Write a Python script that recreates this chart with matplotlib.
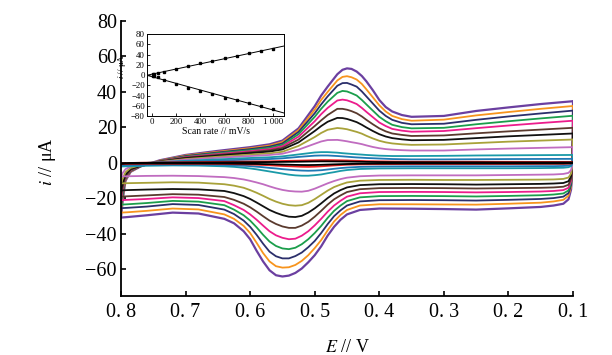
import matplotlib
matplotlib.use("Agg")
import matplotlib.pyplot as plt
import numpy as np

plt.rcParams['font.family'] = ['Liberation Serif', 'DejaVu Serif']
plt.rcParams['mathtext.fontset'] = 'stix'

# ---------------- data ----------------
scan_rates_main = [1000, 900, 800, 700, 600, 500, 400, 300, 200, 100, 50, 20, 10]
curve_colors = ['#6B3FA0', '#F7941D', '#2B2F6B', '#1B9E4B', '#EC1C8C', '#5A3A2E',
                '#111111', '#A8A23A', '#C06CC0', '#1A9AA8', '#1F78B4', '#EE2020', '#000000']

E_up = [0.800, 0.797, 0.793, 0.785, 0.770, 0.740, 0.700, 0.650, 0.600, 0.570, 0.550, 0.525,
        0.500, 0.490, 0.480, 0.465, 0.457, 0.450, 0.443, 0.435, 0.427, 0.420, 0.410, 0.400,
        0.390, 0.380, 0.365, 0.350,
        0.300, 0.250, 0.200, 0.150, 0.100]

E_dn = [0.100, 0.101, 0.103, 0.107, 0.115, 0.130, 0.150, 0.200, 0.250, 0.300, 0.350, 0.400,
        0.430, 0.450, 0.460, 0.470, 0.480, 0.490, 0.500, 0.510, 0.520, 0.530, 0.540, 0.550,
        0.560, 0.570, 0.580, 0.590, 0.600, 0.610, 0.625, 0.640, 0.680,
        0.720, 0.760, 0.790, 0.800]

upper_sweep = [
    [-30.8, -20, -10, -5, -2, 1.5, 4.5, 6.8, 8.9, 10.5, 12.6, 19.5,
     32, 38, 43, 50, 52.5, 53.3, 53, 51.5, 49, 46, 41, 35.5, 31.5, 29, 27, 26,
     26.5, 29.3, 31.3, 33.2, 34.8],
    [-28, -18.5, -9.5, -4.8, -2, 1.3, 4.2, 6.3, 8.3, 9.8, 11.8, 18.5,
     30, 35.5, 40, 46.5, 48.5, 48.9, 48.3, 47, 44.5, 41.5, 37, 32.5, 29, 26.5, 24.7, 23.8,
     24.4, 26.8, 28.7, 30.5, 32.1],
    [-25.5, -17, -9, -4.5, -2, 1.1, 3.9, 5.9, 7.8, 9.2, 11, 17.5,
     28, 33, 37.5, 43.5, 45, 45.1, 44.2, 43, 40.3, 37.5, 33.5, 29.5, 26.5, 24.3, 22.6, 21.8,
     22.1, 24.3, 26.2, 27.9, 29.5],
    [-23.5, -16, -8.5, -4.2, -1.9, 1.0, 3.6, 5.5, 7.2, 8.5, 10.2, 16.2,
     26, 30.5, 34.5, 39.5, 40.6, 40.3, 39.3, 38, 35.5, 33, 29.5, 26, 23.5, 21.5, 20.2, 19.5,
     19.8, 21.8, 23.5, 25.1, 26.6],
    [-21, -14.5, -8, -4, -1.8, 0.9, 3.3, 5.0, 6.6, 7.8, 9.4, 14.8,
     23.5, 27.5, 31, 35.2, 35.7, 35.3, 34.4, 33.2, 31, 28.8, 25.8, 22.8, 20.8, 19.2, 18.2, 17.6,
     18, 19.6, 21.1, 22.5, 23.8],
    [-19, -13, -7.5, -3.8, -1.7, 0.8, 3.0, 4.5, 6.0, 7.1, 8.5, 13.2,
     20.8, 24, 27, 30.5, 30.5, 30, 29.2, 28, 26.2, 24.3, 21.8, 19.5, 17.8, 16.6, 15.8, 15.2,
     15.5, 16.7, 17.8, 18.8, 19.8],
    [-15.5, -11, -6.5, -3.4, -1.6, 0.7, 2.7, 4.1, 5.5, 6.4, 7.6, 11.6,
     18, 20.8, 23.2, 25.4, 25.3, 24.8, 24, 23, 21.5, 20, 18, 16.2, 14.9, 14, 13.3, 12.8,
     13, 14, 15, 15.8, 16.6],
    [-11.5, -8.5, -5.2, -2.8, -1.3, 0.6, 2.2, 3.5, 4.7, 5.4, 6.3, 9.6,
     14.6, 16.9, 18.7, 19.7, 19.4, 19, 18.3, 17.5, 16.5, 15.3, 13.8, 12.5, 11.6, 11, 10.5, 10.2,
     10.4, 11.2, 12, 12.6, 13.2],
    [-7.6, -5.5, -3.5, -2, -1, 0.4, 1.8, 2.9, 3.9, 4.5, 5.2, 7.5,
     10.8, 12.1, 12.9, 13, 12.6, 12.2, 11.7, 11.2, 10.6, 9.9, 9, 8.3, 7.8, 7.5, 7.2, 7,
     7, 7.6, 8.1, 8.5, 8.9],
    [-2, -1.4, -0.9, -0.5, -0.2, 0.4, 1.2, 2.0, 2.8, 3.2, 3.7, 4.8,
     5.9, 6.1, 6.1, 5.8, 5.5, 5.3, 5.1, 4.9, 4.7, 4.5, 4.3, 4.1, 4.0, 3.9, 3.9, 3.9,
     4, 4.2, 4.3, 4.4, 4.5],
    [-1.3, -0.9, -0.6, -0.3, -0.1, 0.3, 0.8, 1.3, 1.9, 2.2, 2.6, 3.4,
     4.1, 4.2, 4.2, 3.9, 3.7, 3.5, 3.3, 3.1, 2.95, 2.8, 2.65, 2.5, 2.35, 2.2, 2.1, 2.0,
     2.0, 2.1, 2.2, 2.25, 2.3],
    [-0.6, -0.4, -0.2, 0, 0.1, 0.2, 0.4, 0.6, 0.8, 0.9, 1.1, 1.3,
     1.5, 1.6, 1.6, 1.5, 1.45, 1.4, 1.3, 1.2, 1.1, 1.0, 0.95, 0.9, 0.85, 0.8, 0.75, 0.7,
     0.7, 0.7, 0.65, 0.6, 0.6],
    [-0.4, -0.3, -0.1, 0, 0.05, 0.1, 0.2, 0.3, 0.4, 0.5, 0.6, 0.7,
     0.85, 0.9, 0.9, 0.85, 0.82, 0.8, 0.75, 0.7, 0.65, 0.6, 0.55, 0.5, 0.47, 0.45, 0.42, 0.4,
     0.35, 0.35, 0.3, 0.3, 0.3],
]

lower_sweep = [
    [34.8, -5, -15, -20.5, -23, -24, -24.8, -25.6, -26.3, -26, -25.8, -25.7,
     -26.5, -29, -32, -36, -41, -47, -52, -56, -59.5, -62, -63.5, -64, -63.3, -60.5, -55.5,
     -49.5, -43, -38.5, -34, -31.5, -28.5,
     -28, -29.5, -30.5, -30.8],
    [32.1, -4.5, -13.5, -18.5, -20.8, -21.7, -22.4, -23, -23.5, -23.4, -23.3, -23.3,
     -24, -26.5, -29.3, -33, -38, -43.5, -48, -52, -55.2, -57.5, -58.8, -59, -58.2, -55.5, -50.8,
     -45, -39.5, -35.5, -31.5, -29, -26.2,
     -25.7, -27, -27.8, -28],
    [29.5, -4, -12.5, -17, -19, -19.8, -20.3, -20.8, -21.2, -21, -20.9, -21,
     -21.7, -24, -26.7, -30, -34.5, -39.5, -44, -47.5, -50.5, -52.5, -53.8, -53.8, -52.6, -50, -45.5,
     -40.5, -36, -32.5, -28.8, -26.3, -23.7,
     -23.2, -24.6, -25.3, -25.5],
    [26.6, -3.5, -11, -15.5, -17.2, -17.8, -18.2, -18.6, -18.9, -18.7, -18.6, -18.7,
     -19.4, -21.5, -24, -27, -31, -35.5, -39.5, -43, -45.8, -47.8, -48.6, -48.2, -46.8, -44.3, -40.5,
     -36.3, -32.5, -29.5, -26.3, -23.8, -21.8,
     -21.4, -22.6, -23.3, -23.5],
    [23.8, -3, -10, -14, -15.3, -15.8, -16.1, -16.4, -16.6, -16.4, -16.3, -16.4,
     -17.1, -19, -21.3, -24, -27.5, -31.5, -35.2, -38.5, -41, -42.7, -43, -42.2, -40.8, -38.5, -35.3,
     -32, -29, -26.5, -23.8, -21.5, -19.8,
     -19.4, -20.3, -20.8, -21],
    [19.8, -2.6, -8.8, -12.3, -13.4, -13.8, -14, -14.2, -14.4, -14.2, -14.1, -14.2,
     -14.8, -16.4, -18.3, -20.5, -23.5, -27, -30.3, -33.2, -35.3, -36.6, -36.6, -35.8, -34.4, -32.5, -30,
     -27.4, -25, -23, -20.8, -19.2, -17.9,
     -17.6, -18.3, -18.8, -19],
    [16.6, -2.2, -7.4, -10.3, -11.3, -11.6, -11.8, -12, -12.2, -12, -11.9, -12,
     -12.5, -13.8, -15.3, -17.2, -19.8, -22.8, -25.6, -28, -29.8, -30.5, -30.3, -29.4, -28.1, -26.5, -24.4,
     -22.3, -20.3, -18.7, -17, -15.8, -14.9,
     -14.7, -15, -15.3, -15.5],
    [13.2, -1.8, -6, -8.2, -9, -9.3, -9.4, -9.5, -9.6, -9.6, -9.5, -9.6,
     -10, -11, -12.2, -13.6, -15.6, -18, -20.4, -22.5, -23.8, -24.1, -23.8, -23, -21.8, -20.3, -18.5,
     -16.8, -15.3, -14, -12.8, -12, -11.1,
     -10.9, -11.2, -11.4, -11.5],
    [8.9, -1.2, -4, -5.6, -6.2, -6.5, -6.6, -6.8, -7, -7, -7, -7.1,
     -7.5, -8.3, -9.1, -10.2, -11.5, -13, -14.5, -15.7, -16.2, -16.1, -15.8, -15.2, -14.3, -13.2, -12,
     -11, -10.1, -9.3, -8.5, -8, -7.4,
     -7.2, -7.3, -7.5, -7.6],
    [4.5, -0.5, -1.8, -2.4, -2.7, -2.8, -2.9, -3, -3, -3, -3, -3.1,
     -3.4, -4, -4.5, -5.2, -5.8, -6.5, -6.9, -7.2, -7.2, -7, -6.6, -6, -5.4, -4.8, -4.2,
     -3.6, -3.1, -2.7, -2.2, -1.9, -1.5,
     -1.4, -1.6, -1.9, -2],
    [2.3, -0.4, -1.1, -1.5, -1.7, -1.8, -1.8, -1.9, -1.9, -1.9, -1.9, -2,
     -2.2, -2.6, -2.9, -3.3, -3.7, -4.1, -4.3, -4.4, -4.3, -4.1, -3.8, -3.5, -3.1, -2.8, -2.4,
     -2.1, -1.8, -1.6, -1.4, -1.2, -1,
     -1, -1.1, -1.2, -1.3],
    [0.6, -0.1, -0.3, -0.4, -0.5, -0.5, -0.5, -0.6, -0.6, -0.6, -0.6, -0.7,
     -0.8, -1, -1.2, -1.4, -1.65, -1.9, -2.1, -2.2, -2.15, -2, -1.85, -1.7, -1.5, -1.3, -1.15,
     -1, -0.9, -0.8, -0.7, -0.6, -0.5,
     -0.5, -0.5, -0.6, -0.6],
    [0.3, -0.1, -0.2, -0.25, -0.3, -0.3, -0.3, -0.3, -0.3, -0.3, -0.3, -0.35,
     -0.45, -0.6, -0.7, -0.8, -0.92, -1.05, -1.15, -1.2, -1.17, -1.1, -1, -0.9, -0.8, -0.7, -0.62,
     -0.55, -0.5, -0.45, -0.4, -0.35, -0.3,
     -0.3, -0.3, -0.35, -0.4],
]

# inset: peak current vs scan rate
inset_rates = [10, 20, 50, 100, 200, 300, 400, 500, 600, 700, 800, 900, 1000]
inset_ipa = [1.0, 1.8, 3.5, 6.5, 12.3, 17.5, 23.4, 27.3, 32.5, 37.0, 42.0, 46.8, 50.5]
inset_ipc = [-1.5, -2.5, -4.5, -9.8, -18.0, -26.0, -31.0, -37.7, -44.0, -49.4, -54.6, -60.5, -65.7]

x_ticks = [0.8, 0.7, 0.6, 0.5, 0.4, 0.3, 0.2, 0.1]
x_tick_labels = ['0. 8', '0. 7', '0. 6', '0. 5', '0. 4', '0. 3', '0. 2', '0. 1']
y_ticks = [80, 60, 40, 20, 0, -20, -40, -60]
inset_x_ticks = [0, 200, 400, 600, 800, 1000]
inset_x_labels = ['0', '200', '400', '600', '800', '1 000']
inset_y_ticks = [80, 60, 40, 20, 0, -20, -40, -60, -80]

# ---------------- figure ----------------
fig = plt.figure(figsize=(6.12, 3.55), dpi=100)
fig.patch.set_facecolor('white')
ax = fig.add_axes([0.1977, 0.1662, 0.7386, 0.7746])

for col, up, dn in zip(curve_colors, upper_sweep, lower_sweep):
    lw = 1.6 if col == '#6B3FA0' else 1.3
    ax.plot(E_up, up, color=col, lw=lw, solid_joinstyle='round', solid_capstyle='round')
    ax.plot(E_dn, dn, color=col, lw=lw, solid_joinstyle='round', solid_capstyle='round')

ax.set_xlim(0.8, 0.1)
ax.set_ylim(-75, 80)
for s in ['top', 'right']:
    ax.spines[s].set_visible(False)
for s in ['left', 'bottom']:
    ax.spines[s].set_linewidth(1.3)
ax.set_xticks(x_ticks)
ax.set_xticklabels(x_tick_labels)
ax.set_yticks(y_ticks)
ax.set_yticklabels([str(v).replace('-', '\u2212') for v in y_ticks])
ax.tick_params(direction='in', length=3.5, width=1.2, labelsize=14.5)
ax.tick_params(axis='x', pad=5)
ax.tick_params(axis='y', pad=3)
ax.set_xlabel(r'$E$ // V', fontsize=13, labelpad=12)
ax.set_ylabel(r'$i$ // μA', fontsize=13)
ax.yaxis.set_label_coords(-0.139, 0.49)

# ---------------- inset ----------------
ins = fig.add_axes([0.2402, 0.6732, 0.2239, 0.231])
ins.set_facecolor('white')
ins.plot(inset_rates, inset_ipa, 's', color='black', ms=1.8)
ins.plot(inset_rates, inset_ipc, 's', color='black', ms=1.8)
xl = np.array([-40, 1090])
pa = np.polyfit(inset_rates, inset_ipa, 1)
pc = np.polyfit(inset_rates, inset_ipc, 1)
ins.plot(xl, np.polyval(pa, xl), color='black', lw=0.7)
ins.plot(xl, np.polyval(pc, xl), color='black', lw=0.7)
ins.set_xlim(-40, 1090)
ins.set_ylim(-80, 80)
ins.set_xticks(inset_x_ticks)
ins.set_xticklabels(inset_x_labels)
ins.set_yticks(inset_y_ticks)
ins.set_yticklabels([str(v).replace('-', '\u2212') for v in inset_y_ticks])
ins.tick_params(direction='in', length=2, width=0.6, labelsize=6.3, pad=1.5)
for s in ins.spines.values():
    s.set_linewidth(0.7)
ins.set_xlabel('Scan rate // mV/s', fontsize=7, labelpad=1)
ins.set_ylabel(r'$i$ // μA', fontsize=6.5, labelpad=0)
ins.yaxis.set_label_coords(-0.14, 0.6)

fig.savefig('out.png', dpi=100, facecolor='white')
